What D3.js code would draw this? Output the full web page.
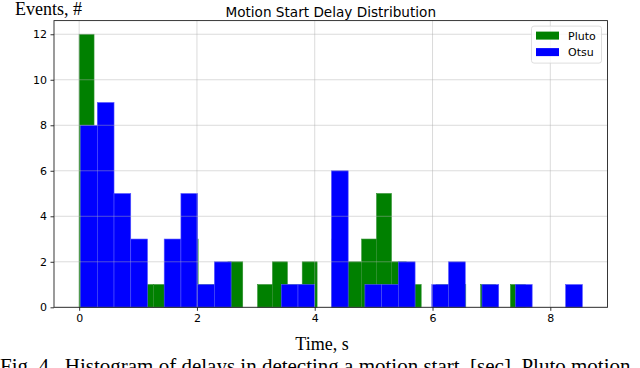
<!DOCTYPE html>
<html>
  <head>
    <meta charset="utf-8">
    <title>Motion Start Delay Distribution</title>
    <script type="text/javascript" src="https://d3js.org/d3.v7.min.js"></script>
    <style>
      body { margin: 0; background: #fff; }
      svg { display: block; }
    </style>
  </head>
  <body>
    <svg width="640" height="368"></svg>
    <script>
      // histogram counts (30 bins each)
      var plutoCounts = [12, 6, 4, 2, 1, 1, 2, 3, 1, 1,
                          2, 0, 1, 2, 1, 2, 0, 3, 2, 3,
                          5, 2, 1, 0, 1, 1, 0, 1, 0, 1];
      var otsuCounts  = [8, 9, 5, 3, 0, 3, 5, 1, 2, 0,
                         0, 0, 1, 1, 0, 6, 0, 1, 1, 2,
                         0, 1, 2, 0, 1, 0, 1, 0, 0, 1];
      // bin edges, seconds
      var plutoBinStart = 0,     plutoBinWidth = 0.2525;
      var otsuBinStart  = 0.024, otsuBinWidth  = 0.284;

      var seriesNames = ["Pluto", "Otsu"];
      var xTicks = [0, 2, 4, 6, 8];
      var yTicks = [0, 2, 4, 6, 8, 10, 12];

      var colors = {Pluto: "#008000", Otsu: "#0000ff"};

      var marge = {top: 20.6, bottom: 60.7, left: 54, right: 32.5};
      var svg = d3.select("svg");
      var width = +svg.attr("width") - marge.left - marge.right;
      var height = +svg.attr("height") - marge.top - marge.bottom;
      var g = svg.append("g")
        .attr("transform", "translate(" + marge.left + "," + marge.top + ")");

      function makeBins(counts, start, w) {
        return counts.map(function(c, i) {
          return {x0: start + i * w, x1: start + (i + 1) * w, count: c};
        });
      }
      var bins = {
        Pluto: makeBins(plutoCounts, plutoBinStart, plutoBinWidth),
        Otsu: makeBins(otsuCounts, otsuBinStart, otsuBinWidth)
      };

      // matplotlib-like 5% margins on x, top margin on y
      var xmin = Math.min(plutoBinStart, otsuBinStart);
      var xmax = Math.max(plutoBinStart + plutoCounts.length * plutoBinWidth,
                          otsuBinStart + otsuCounts.length * otsuBinWidth);
      var pad = (xmax - xmin) * 0.05;
      var x = d3.scaleLinear().domain([xmin - pad, xmax + pad]).range([0, width]);
      var ymax = d3.max(plutoCounts.concat(otsuCounts)) * 1.05;
      var y = d3.scaleLinear().domain([0, ymax]).range([height, 0]);

      // bars: Pluto first, Otsu on top
      seriesNames.forEach(function(name) {
        g.append("g")
          .selectAll("rect")
          .data(bins[name].filter(function(d) { return d.count > 0; }))
          .enter()
          .append("rect")
          .attr("x", function(d) { return x(d.x0); })
          .attr("width", function(d) { return x(d.x1) - x(d.x0); })
          .attr("y", function(d) { return y(d.count); })
          .attr("height", function(d) { return y(0) - y(d.count); })
          .attr("fill", colors[name])
          .attr("stroke", name == "Otsu" ? "#5555ff" : "#2f8f2f")
          .attr("stroke-width", 0.6);
      });

      // grid over the bars
      var grid = g.append("g").attr("class", "grid");
      grid.selectAll(".vx")
        .data(xTicks)
        .enter()
        .append("line")
        .attr("x1", function(d) { return x(d); })
        .attr("x2", function(d) { return x(d); })
        .attr("y1", 0)
        .attr("y2", height);
      grid.selectAll(".hy")
        .data(yTicks)
        .enter()
        .append("line")
        .attr("x1", 0)
        .attr("x2", width)
        .attr("y1", function(d) { return y(d); })
        .attr("y2", function(d) { return y(d); });
      grid.selectAll("line")
        .attr("stroke", "#b0b0b0")
        .attr("stroke-opacity", 0.45)
        .attr("stroke-width", 1);

      // axes
      var xAxis = g.append("g")
        .attr("transform", "translate(0," + height + ")")
        .call(d3.axisBottom(x).tickValues(xTicks).tickSize(3.5).tickPadding(3).tickFormat(d3.format("d")));
      var yAxis = g.append("g")
        .call(d3.axisLeft(y).tickValues(yTicks).tickSize(3.5).tickPadding(3.5).tickFormat(d3.format("d")));
      [xAxis, yAxis].forEach(function(ax) {
        ax.select(".domain").remove();
        ax.selectAll("text")
          .attr("font-family", "DejaVu Sans, sans-serif")
          .attr("font-size", 11)
          .attr("fill", "#000");
        ax.selectAll("line").attr("stroke", "#000").attr("stroke-width", 0.8);
      });

      // frame
      g.append("rect")
        .attr("x", 0)
        .attr("y", 0)
        .attr("width", width)
        .attr("height", height)
        .attr("fill", "none")
        .attr("stroke", "#222")
        .attr("stroke-width", 0.9);

      // title
      g.append("text")
        .attr("x", width / 2)
        .attr("y", -4)
        .attr("text-anchor", "middle")
        .attr("font-family", "DejaVu Sans, sans-serif")
        .attr("font-size", 13.6)
        .text("Motion Start Delay Distribution");

      // legend
      var legend = g.append("g")
        .attr("transform", "translate(" + (width - 76) + ",5.5)");
      legend.append("rect")
        .attr("width", 70)
        .attr("height", 37)
        .attr("rx", 2.5)
        .attr("fill", "#fff")
        .attr("fill-opacity", 0.8)
        .attr("stroke", "#d5d5d5")
        .attr("stroke-width", 0.8);
      var items = legend.selectAll(".item")
        .data(seriesNames)
        .enter()
        .append("g")
        .attr("transform", function(d, i) { return "translate(4.5," + (5.5 + i * 16.5) + ")"; });
      items.append("rect")
        .attr("width", 23)
        .attr("height", 8)
        .attr("fill", function(d) { return colors[d]; });
      items.append("text")
        .attr("x", 32)
        .attr("y", 4)
        .attr("dy", "0.36em")
        .attr("font-family", "DejaVu Sans, sans-serif")
        .attr("font-size", 11)
        .text(function(d) { return d; });

      // axis labels and caption in serif
      svg.append("text")
        .attr("x", 15)
        .attr("y", 15)
        .attr("font-family", "Liberation Serif, Times New Roman, serif")
        .attr("font-size", 18)
        .text("Events, #");
      svg.append("text")
        .attr("x", 322)
        .attr("y", 350)
        .attr("text-anchor", "middle")
        .attr("font-family", "Liberation Serif, Times New Roman, serif")
        .attr("font-size", 18)
        .text("Time, s");
      svg.append("text")
        .attr("x", 0)
        .attr("y", 373)
        .attr("font-family", "Liberation Serif, Times New Roman, serif")
        .attr("font-size", 21)
        .attr("xml:space", "preserve")
        .text("Fig. 4.  Histogram of delays in detecting a motion start, [sec]. Pluto motion");
    </script>
  </body>
</html>
